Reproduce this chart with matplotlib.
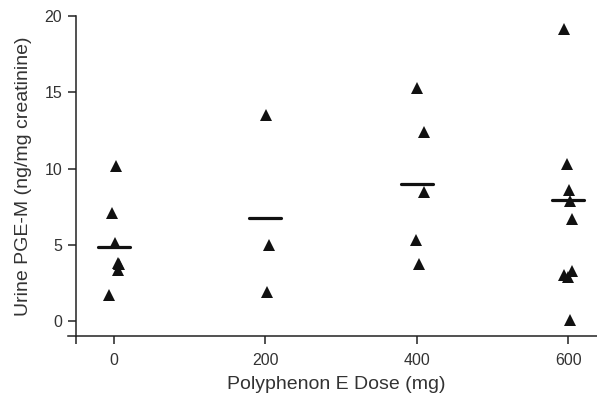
import matplotlib.pyplot as plt
import numpy as np

plt.rcParams['font.family'] = ['Liberation Sans', 'DejaVu Sans']

# dose groups and the PGE-M values (x has a little jitter)
doses = [0, 200, 400, 600]
dose_0 = [2.6, -3, 1.7, 4.9, 7, 5.6, -7]
pge_0 = [10.15, 7.1, 5.14, 3.84, 3.73, 3.4, 1.76]
dose_200 = [201.4, 204.4, 202.2]
pge_200 = [13.5, 4.99, 1.94]
dose_400 = [400.4, 410, 409, 399.6, 403]
pge_400 = [15.27, 12.4, 8.48, 5.36, 3.79]
dose_600 = [595, 599, 600.4, 602, 605, 605.6, 594.7, 600, 601.7]
pge_600 = [19.13, 10.28, 8.6, 7.87, 6.73, 3.33, 3.03, 2.92, 0.07]

# horizontal bars (group medians as drawn)
median_pge = [4.88, 6.78, 9.02, 7.92]

fig = plt.figure(figsize=(5.97, 3.99), dpi=100)
ax = fig.add_axes([0.1273, 0.158, 0.8727, 0.802])

for x, y in [(dose_0, pge_0), (dose_200, pge_200), (dose_400, pge_400), (dose_600, pge_600)]:
    ax.plot(x, y, '^', color='#111111', ms=8.5, mew=0, clip_on=False)

for d, m in zip(doses, median_pge):
    ax.plot([d - 21, d + 21], [m, m], color='#111111', lw=2.3, solid_capstyle='round')

ax.set_xlim(-50, 638)
ax.set_ylim(-0.95, 20)
ax.set_xticks([-50, 0, 200, 400, 600])
ax.set_xticklabels(['', '0', '200', '400', '600'])
ax.set_yticks([0, 5, 10, 15, 20])

for s in ['top', 'right']:
    ax.spines[s].set_visible(False)
for s in ['left', 'bottom']:
    ax.spines[s].set_linewidth(1.1)
    ax.spines[s].set_color('#222222')
ax.spines['bottom'].set_bounds(-60, 638)

ax.tick_params(axis='both', length=6, width=1.1, color='#222222', labelsize=11.5, labelcolor='#333333')
ax.tick_params(axis='x', pad=6)
ax.tick_params(axis='y', pad=4)

ax.set_xlabel('Polyphenon E Dose (mg)', fontsize=14, color='#333333', labelpad=6)
ax.set_ylabel('Urine PGE-M (ng/mg creatinine)', fontsize=14, color='#333333', labelpad=9)

fig.savefig('out.png', dpi=100)
